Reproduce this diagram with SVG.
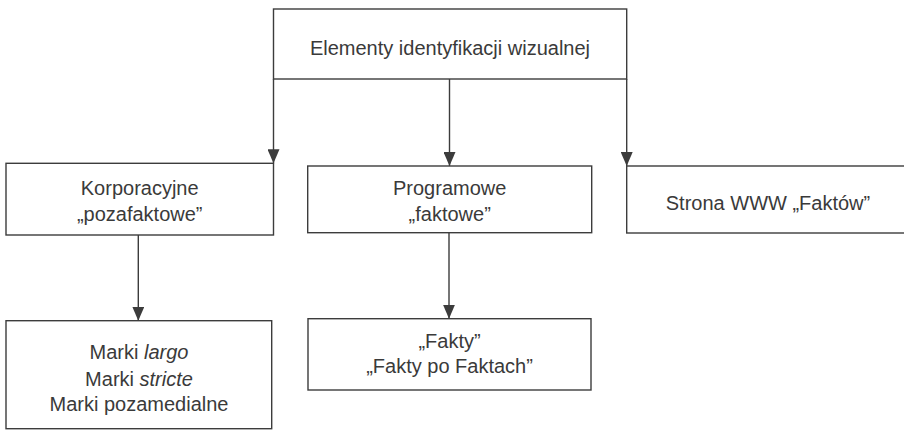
<svg xmlns="http://www.w3.org/2000/svg" width="904" height="430" viewBox="0 0 904 430">
<defs>
<style>
.box{fill:#fff;stroke:#3c3c3c;stroke-width:1.4}
.t{font-family:"Liberation Sans",Arial,sans-serif;font-size:20px;fill:#3a3a3a;text-anchor:middle}
.c{fill:none;stroke:#3c3c3c;stroke-width:1.4}
</style>
<marker id="ah" markerUnits="userSpaceOnUse" markerWidth="14" markerHeight="12" viewBox="0 0 14 12" refX="14" refY="6" orient="auto">
<path d="M0,0 L14,6 L0,12 Z" fill="#3c3c3c"/>
</marker>
</defs>
<rect width="904" height="430" fill="#fff"/>
<g id="connectors">
<path class="c" d="M273.5,79 V163.3" marker-end="url(#ah)"/>
<path class="c" d="M449.5,79 V166" marker-end="url(#ah)"/>
<path class="c" d="M626.7,79 V166" marker-end="url(#ah)"/>
<path class="c" d="M138.3,235 V320.7" marker-end="url(#ah)"/>
<path class="c" d="M449,232.7 V318.7" marker-end="url(#ah)"/>
</g>
<g id="n-top">
<rect class="box" x="273.5" y="9" width="353.2" height="70"/>
<text class="t" x="450" y="55">Elementy identyfikacji wizualnej</text>
</g>
<g id="n-korp">
<rect class="box" x="6" y="163.3" width="267.5" height="71.7"/>
<text class="t" x="139.7" y="195">Korporacyjne</text>
<text class="t" x="139.7" y="220.5">„pozafaktowe”</text>
</g>
<g id="n-prog">
<rect class="box" x="307.7" y="166" width="284" height="66.7"/>
<text class="t" x="449.7" y="195">Programowe</text>
<text class="t" x="449.7" y="220.5">„faktowe”</text>
</g>
<g id="n-www">
<rect class="box" x="626.7" y="166" width="290" height="67"/>
<text class="t" x="768" y="210">Strona WWW „Faktów”</text>
</g>
<g id="n-marki">
<rect class="box" x="6" y="320.7" width="265.7" height="108"/>
<text class="t" x="139" y="359.3">Marki <tspan font-style="italic">largo</tspan></text>
<text class="t" x="139" y="385.7">Marki <tspan font-style="italic">stricte</tspan></text>
<text class="t" x="139" y="411">Marki pozamedialne</text>
</g>
<g id="n-fakty">
<rect class="box" x="308" y="318.7" width="283" height="71.3"/>
<text class="t" x="449.5" y="348.3">„Fakty”</text>
<text class="t" x="449.5" y="373.3">„Fakty po Faktach”</text>
</g>
</svg>
